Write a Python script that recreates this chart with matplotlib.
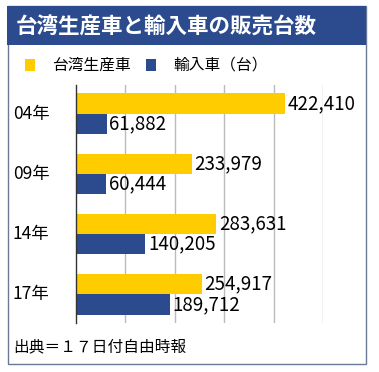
import matplotlib.pyplot as plt
from matplotlib.patches import Rectangle
import numpy as np

plt.rcParams['font.family'] = ['Noto Sans CJK JP', 'DejaVu Sans']

# ==================== データ ====================
years = ["04年", "09年", "14年", "17年"]
domestic = [422410, 233979, 283631, 254917]   # 台湾生産車
imported = [61882, 60444, 140205, 189712]     # 輸入車

YELLOW = "#FFCC00"
NAVY = "#2B4B8E"
W, H = 379, 372

fig = plt.figure(figsize=(W / 100, H / 100), dpi=100)

def fx(px):
    return px / W

def fy(py):
    return 1 - py / H

# 外枠とタイトル帯
fig.patches.append(Rectangle((fx(8), fy(364)), fx(366) - fx(8), fy(6) - fy(364),
                             transform=fig.transFigure, fill=False,
                             edgecolor="#6A7A96", linewidth=1.0))
fig.patches.append(Rectangle((fx(7), fy(45)), fx(366) - fx(7), fy(6) - fy(45),
                             transform=fig.transFigure, facecolor=NAVY,
                             edgecolor="none"))
fig.text(fx(16), fy(27), "台湾生産車と輸入車の販売台数", color="white",
         fontsize=15.5, fontweight="bold", va="center", ha="left")

# 凡例
fig.patches.append(Rectangle((fx(25), fy(71)), fx(10), fy(59) - fy(71),
                             transform=fig.transFigure, facecolor=YELLOW, edgecolor="none"))
fig.text(fx(53), fy(65), "台湾生産車", fontsize=11.3, va="center", ha="left")
fig.patches.append(Rectangle((fx(146), fy(71)), fx(10), fy(59) - fy(71),
                             transform=fig.transFigure, facecolor=NAVY, edgecolor="none"))
fig.text(fx(173), fy(65), "輸入車（台）", fontsize=11.3, va="center", ha="left")

# ==================== 棒グラフ ====================
ax = fig.add_axes([fx(76), fy(323), fx(323) - fx(76), fy(85) - fy(323)])
y = np.arange(len(years))
h = 0.34
ax.barh(y - h / 2, domestic, height=h, color=YELLOW)
ax.barh(y + h / 2, imported, height=h, color=NAVY)

for yi, v in zip(y, domestic):
    ax.text(v + 5500, yi - h / 2, f"{v:,}", va="center", ha="left",
            fontsize=13.5, clip_on=False)
for yi, v in zip(y, imported):
    ax.text(v + 5500, yi + h / 2, f"{v:,}", va="center", ha="left",
            fontsize=13.5, clip_on=False)

ax.set_xlim(0, 500000)
ax.set_ylim(3.48, -0.48)
ax.set_xticks(np.arange(100000, 500001, 100000))
ax.xaxis.grid(True, color="#BBBBBB", linewidth=1)
ax.set_axisbelow(True)
ax.tick_params(left=False, bottom=False, labelbottom=False, labelleft=False)
for s in ["top", "right", "bottom"]:
    ax.spines[s].set_visible(False)
ax.spines["left"].set_color("#333333")
ax.spines["left"].set_linewidth(1)

for yi, lab in zip(y, years):
    fig.text(fx(13), ax.transData.transform((0, yi))[1] / H, lab,
             fontsize=12.5, va="center", ha="left")

# 出典
fig.text(fx(13), fy(347), "出典＝１７日付自由時報", fontsize=11.3, va="center", ha="left")

fig.savefig("out.png", dpi=100)
